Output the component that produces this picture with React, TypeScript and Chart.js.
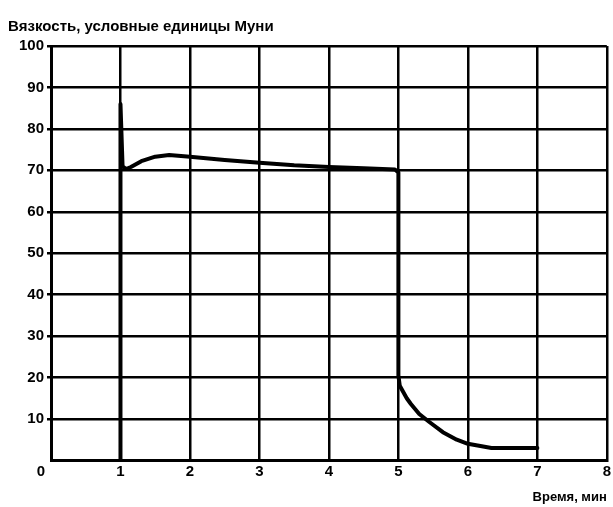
import React, { useEffect, useRef } from "react";
import { Chart, registerables } from "chart.js";

Chart.register(...registerables);

const title = "Вязкость, условные единицы Муни";
const xTitle = "Время, мин";
const times = [1.0, 1.0, 1.03, 1.08, 1.15, 1.3, 1.5, 1.7, 2.0, 2.5, 3.0, 3.5, 4.0, 4.5, 4.95, 5.0, 5.0, 5.02, 5.06, 5.12, 5.18, 5.3, 5.45, 5.64, 5.84, 6.0, 6.2, 6.34, 7.0];
const viscosity = [0, 86, 71, 70.3, 70.8, 72.2, 73.3, 73.7, 73.3, 72.5, 71.8, 71.2, 70.8, 70.5, 70.2, 69.5, 20.5, 18, 16.8, 15, 13.6, 11.2, 9.2, 6.8, 5.0, 4.0, 3.4, 3.0, 3.0];
const xTicks = [1, 2, 3, 4, 5, 6, 7, 8];
const yTicks = [10, 20, 30, 40, 50, 60, 70, 80, 90, 100];
const originLabel = "0";

const FONT = "'Liberation Sans', Arial, sans-serif";

export default function App() {
  const ref = useRef<HTMLCanvasElement>(null);
  useEffect(() => {
    document.body.style.margin = "0";
    const canvas = ref.current!;
    const originPlugin = {
      id: "origin",
      afterDraw(chart: any) {
        const { ctx, scales } = chart;
        ctx.save();
        ctx.font = `bold 15px ${FONT}`;
        ctx.fillStyle = "#000";
        ctx.textAlign = "center";
        ctx.textBaseline = "middle";
        ctx.fillText(originLabel, scales.x.left - 10, scales.y.bottom + 11);
        ctx.restore();
      },
    };
    const chart = new Chart(canvas, {
      type: "scatter",
      data: {
        datasets: [
          {
            data: times.map((t, i) => ({ x: t, y: viscosity[i] })),
            showLine: true,
            borderColor: "#000",
            borderWidth: 4,
            pointRadius: 0,
            tension: 0,
            borderJoinStyle: "round",
            borderCapStyle: "round",
          } as any,
        ],
      },
      plugins: [originPlugin],
      options: {
        animation: false,
        responsive: false,
        layout: { padding: { left: 8, right: 6, top: 0, bottom: 0 } },
        plugins: {
          legend: { display: false },
          tooltip: { enabled: false },
          title: {
            display: true,
            text: title,
            align: "start",
            color: "#000",
            font: { family: FONT, size: 15, weight: "bold" },
            padding: { top: 18, bottom: 10 },
          },
        },
        scales: {
          x: {
            type: "linear",
            min: 0,
            max: 8,
            afterBuildTicks: (s: any) => {
              s.ticks = xTicks.map((v) => ({ value: v }));
            },
            ticks: {
              color: "#000",
              font: { family: FONT, size: 15, weight: "bold" },
              padding: 2,
            },
            grid: { color: "#000", lineWidth: 2.5, drawTicks: false },
            border: { color: "#000", width: 3 },
            title: {
              display: true,
              text: xTitle,
              align: "end",
              color: "#000",
              font: { family: FONT, size: 13, weight: "bold" },
              padding: { top: 7, bottom: 2 },
            },
          },
          y: {
            type: "linear",
            min: 0,
            max: 100,
            afterBuildTicks: (s: any) => {
              s.ticks = yTicks.map((v) => ({ value: v }));
            },
            afterFit: (s: any) => {
              s.width = 43;
            },
            ticks: {
              color: "#000",
              font: { family: FONT, size: 15, weight: "bold" },
              padding: 3,
            },
            grid: { color: "#000", lineWidth: 2.5, tickLength: 4 },
            border: { color: "#000", width: 3 },
          },
        },
      },
    });
    return () => chart.destroy();
  }, []);
  return <canvas ref={ref} width={613} height={507} style={{ display: "block" }} />;
}
